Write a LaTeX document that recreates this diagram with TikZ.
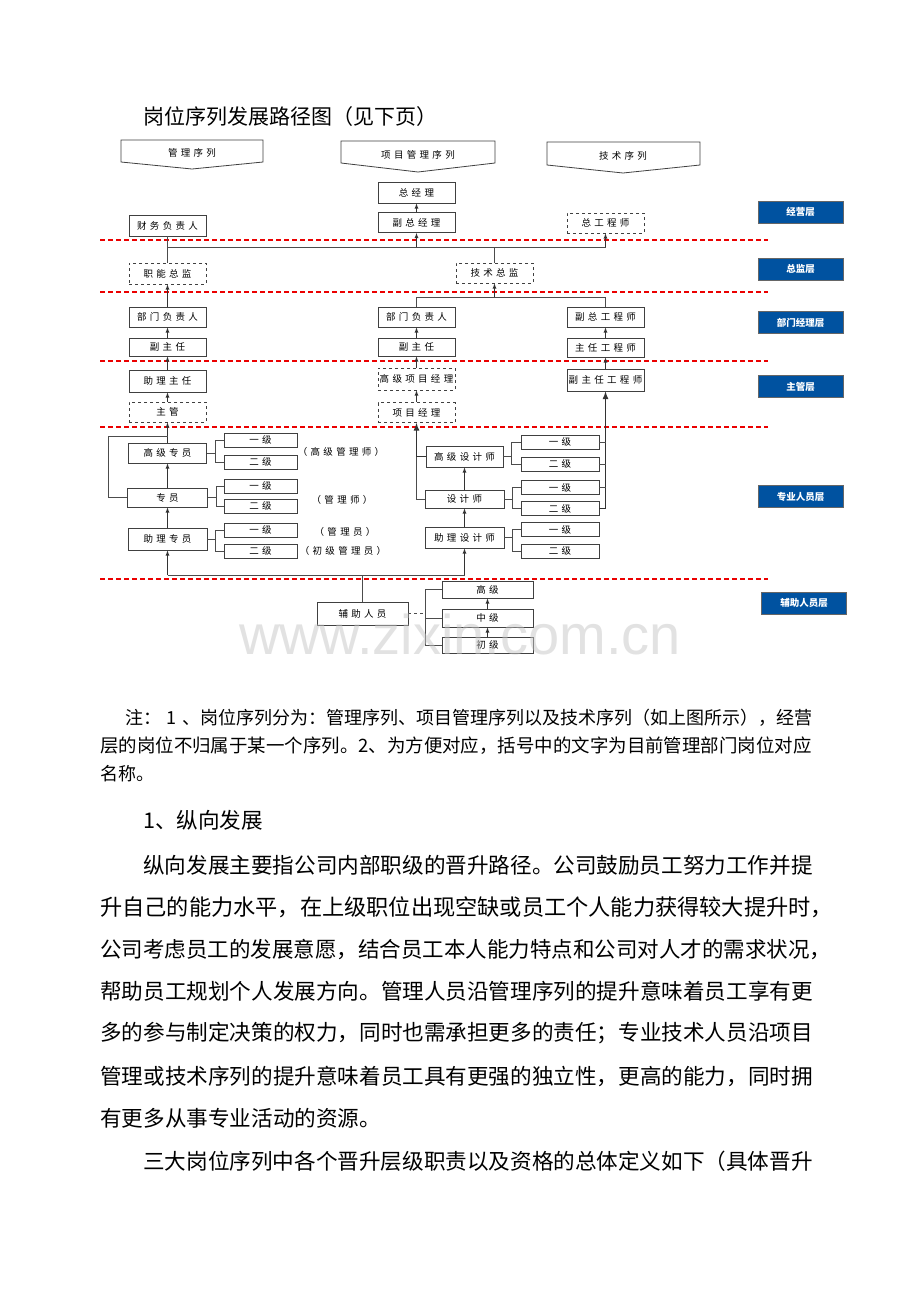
\documentclass[tikz,border=0pt]{standalone}
\usepackage{fontspec}
\setmainfont{Noto Sans CJK SC}
\newfontfamily\boxfont[LetterSpace=35]{Noto Sans CJK SC}
\newfontfamily\wmfont{Liberation Sans}
\usetikzlibrary{positioning,calc,arrows}
\definecolor{layerblue}{RGB}{0,82,160}
\definecolor{layerred}{RGB}{235,0,0}
\tikzset{posbox/.style={draw=black!75, line width=0.8pt, fill=white, minimum width=77pt, minimum height=20pt, inner sep=1pt, font=\boxfont\fontsize{9.5}{10}\selectfont}}
\tikzset{posdash/.style={posbox, dashed}}
\tikzset{gradebox/.style={posbox, minimum width=73pt, minimum height=14pt}}
\tikzset{layerbox/.style={draw=black!60, fill=layerblue, text=white, minimum width=85pt, minimum height=22pt, inner sep=1pt, font=\bfseries\fontsize{9.5}{10}\selectfont}}
\tikzset{arr/.style={draw=black!80, -latex, line width=0.8pt}}
\tikzset{thickarr/.style={arr, line width=1.6pt}}
\tikzset{link/.style={draw=black!70, line width=0.8pt}}
\tikzset{layerline/.style={draw=layerred, line width=1.1pt, dash pattern=on 5pt off 3pt}}
\tikzset{banner/.style={draw=black!75, line width=0.8pt}}
\tikzset{remark/.style={font=\boxfont\fontsize{9.5}{10}\selectfont, inner sep=0pt}}
\tikzset{notetext/.style={anchor=west, inner sep=0pt, font=\fontsize{18}{18}\selectfont}}
\tikzset{bodytext/.style={anchor=west, inner sep=0pt, font=\fontsize{21.6}{21.6}\selectfont}}

\begin{document}
\begin{tikzpicture}[x=1pt,y=-1pt]
\useasboundingbox[fill=white] (0,0) rectangle (920,1302);

\node[anchor=west, inner sep=0pt, font=\fontsize{21}{21}\selectfont] (title) at (143,117) {岗位序列发展路径图（见下页）};

% sequence banners
\draw[banner] (121,140) -- (263,140) -- (263,162) -- (192,169) -- (121,162) -- cycle;
\draw[banner] (341,141) -- (495,141) -- (495,163) -- (418,172) -- (341,163) -- cycle;
\draw[banner] (547,142) -- (700,142) -- (700,165) -- (623,173) -- (547,165) -- cycle;
\node[remark] (seqMgmt) at (192,153) {管理序列};
\node[remark] (seqProj) at (418,155) {项目管理序列};
\node[remark] (seqTech) at (623,156) {技术序列};

% layer lines and labels
\draw[layerline] (100,240) -- (768,240);
\draw[layerline] (100,292) -- (768,292);
\draw[layerline] (100,361) -- (768,361);
\draw[layerline] (100,427) -- (768,427);
\draw[layerline] (100,579) -- (768,579);
\node[layerbox] (lyBiz) at (800.5,212) {经营层};
\node[layerbox] (lyDir) at (800.5,269) {总监层};
\node[layerbox] (lyDept) at (800.5,322.5) {部门经理层};
\node[layerbox] (lySupv) at (800.5,386.5) {主管层};
\node[layerbox] (lyPro) at (800.5,496.5) {专业人员层};
\node[layerbox] (lyAux) at (804,603) {辅助人员层};

% management levels
\node[posbox, minimum height=21pt] (ceo) at (416.5,192.5) {总经理};
\node[posbox] (vp) at (416.5,222.5) {副总经理};
\node[posbox, minimum height=21pt] (cfo) at (167.5,225.5) {财务负责人};
\node[posdash] (chiefEng) at (605.5,223) {总工程师};
\node[posdash, minimum height=21pt] (funcDir) at (167.5,273.5) {职能总监};
\node[posdash] (techDir) at (494.5,273) {技术总监};
\node[posbox] (deptL) at (167.5,317) {部门负责人};
\node[posbox] (deptM) at (416.5,317) {部门负责人};
\node[posbox] (vchiefEng) at (605.5,317) {副总工程师};
\node[posbox, minimum height=18pt] (vdirL) at (167.5,347) {副主任};
\node[posbox, minimum height=18pt] (vdirM) at (416.5,347) {副主任};
\node[posbox, minimum height=19pt] (dirEng) at (605.5,347.5) {主任工程师};
\node[posbox, minimum height=22pt] (asstDir) at (167.5,381) {助理主任};
\node[posdash, minimum height=22pt] (srPM) at (416.5,379) {高级项目经理};
\node[posbox, minimum height=22pt] (vdirEng) at (605.5,380) {副主任工程师};
\node[posdash] (supv) at (167.5,412) {主管};
\node[posdash] (pm) at (416.5,412.5) {项目经理};

% professional staff
\node[posbox, minimum width=78pt] (srSpec) at (167.5,453) {高级专员};
\node[posbox, minimum width=80pt, minimum height=19pt] (spec) at (167.5,497.5) {专员};
\node[posbox, minimum width=79pt, minimum height=22pt] (asstSpec) at (167.5,539) {助理专员};
\node[gradebox] (g1a) at (260.5,440) {一级};
\node[gradebox] (g1b) at (260.5,462) {二级};
\node[gradebox] (g2a) at (260.5,486) {一级};
\node[gradebox] (g2b) at (260.5,506) {二级};
\node[gradebox] (g3a) at (260.5,530) {一级};
\node[gradebox] (g3b) at (260.5,551) {二级};
\node[remark] (noteSrMgr) at (341,452) {（高级管理师）};
\node[remark] (noteMgr) at (342,500) {（管理师）};
\node[remark] (noteClerk) at (345,532) {（管理员）};
\node[remark] (noteJrClerk) at (343,551) {（初级管理员）};

\node[posbox, minimum height=21pt] (srDes) at (464.5,456.5) {高级设计师};
\node[posbox, minimum width=79pt, minimum height=18pt] (des) at (464.5,499) {设计师};
\node[posbox, minimum width=79pt, minimum height=21pt] (asstDes) at (464.5,537.5) {助理设计师};
\node[gradebox, minimum width=78pt] (d1a) at (560,442) {一级};
\node[gradebox, minimum width=78pt] (d1b) at (560,464) {二级};
\node[gradebox, minimum width=78pt] (d2a) at (560,487.5) {一级};
\node[gradebox, minimum width=78pt] (d2b) at (560,508.5) {二级};
\node[gradebox, minimum width=78pt] (d3a) at (560,529.5) {一级};
\node[gradebox, minimum width=78pt] (d3b) at (560,551) {二级};

% auxiliary staff
\node[posbox, minimum width=91pt, minimum height=23pt] (aux) at (362.5,613.5) {辅助人员};
\node[gradebox, minimum width=91pt, minimum height=17pt] (auxHi) at (487.5,589.5) {高级};
\node[gradebox, minimum width=91pt, minimum height=18pt] (auxMid) at (487.5,618) {中级};
\node[gradebox, minimum width=91pt, minimum height=16pt] (auxLo) at (487.5,645) {初级};

% connectors, top part
\coordinate (busA) at (0,247);
\coordinate (busB) at (0,297);
\coordinate (busC) at (0,575);
\draw[arr] (vp) -- (ceo);
\draw[link] (cfo.south) -- (funcDir.north);
\draw[link] (cfo.south |- busA) -- (chiefEng.south |- busA);
\draw[arr] (vp.south |- busA) -- (vp.south);
\draw[arr] (chiefEng.south |- busA) -- (chiefEng.south);
\draw[link, line width=1.6pt] (techDir.north) -- (techDir.north |- busA);
\draw[link] (deptM.north) |- (vchiefEng.north |- busB) -- (vchiefEng.north);
\draw[arr] (techDir.south |- busB) -- (techDir.south);
\draw[arr] (deptL) -- (funcDir);
\draw[arr] (vdirL) -- (deptL);
\draw[arr] (asstDir) -- (vdirL);
\draw[arr] (supv) -- (asstDir);
\draw[arr] (vdirM) -- (deptM);
\draw[arr] (srPM) -- (vdirM);
\draw[arr] (pm) -- (srPM);
\draw[arr] (dirEng) -- (vchiefEng);
\draw[arr] (vdirEng) -- (dirEng);

% connectors, professional staff
\draw[arr] (srSpec) -- (supv);
\draw[arr] (spec) -- (srSpec);
\draw[arr] (asstSpec) -- (spec);
\draw[link] (spec.west) -- ++(-19,0) |- (srSpec.north |- 0,436);
\foreach \src/\ga/\gb in {srSpec/g1a/g1b, spec/g2a/g2b, asstSpec/g3a/g3b, srDes/d1a/d1b, des/d2a/d2b, asstDes/d3a/d3b} {
  \draw[link] (\src.east) -- ++(8,0) coordinate (brk);
  \draw[link] (\ga.west) -| (brk) |- (\gb.west);
}
\draw[thickarr] (srDes.west) -| (pm.south);
\draw[link] (des.west) -| (srDes.west -| pm.south);
\draw[arr] (des) -- (srDes);
\draw[arr] (asstDes) -- (des);
\draw[thickarr] (d2b.east) -| (vdirEng.south);
\foreach \g in {d1a,d1b,d2a}
  \draw[link] (\g.east) -- (\g.east -| vdirEng.south);

% connectors, bottom
\draw[link] (asstSpec.south |- busC) -- (asstDes.south |- busC);
\draw[arr] (asstSpec.south |- busC) -- (asstSpec.south);
\draw[arr] (asstDes.south |- busC) -- (asstDes.south);
\draw[link] (aux.north) -- (aux.north |- busC);
\draw[link, dashed] (aux.east) -- ++(17,0) coordinate (auxJ);
\draw[link] (auxHi.west) -| (auxJ) |- (auxLo.west);
\draw[link] (auxMid.west) -- (auxMid.west -| auxJ);
\draw[arr] (auxLo) -- (auxMid);
\draw[arr] (auxMid) -- (auxHi);

\node[text=gray!45, opacity=0.5, font=\wmfont\fontsize{56}{56}\selectfont] (wmark) at (460,634) {www.zixin.com.cn};

% text below the chart
\node[notetext] (note1) at (125,718) {\makebox[687pt][s]{注：~1~、岗位序列分为：管理序列、项目管理序列以及技术序列（如上图所示），经营}};
\node[notetext, font=\fontsize{18.45}{18.45}\selectfont] (note2) at (100,746) {层的岗位不归属于某一个序列。2、为方便对应，括号中的文字为目前管理部门岗位对应};
\node[notetext] (note3) at (100,774) {名称。};
\node[bodytext] (head1) at (143,820) {1、纵向发展};
\node[bodytext] (par1) at (143,865) {纵向发展主要指公司内部职级的晋升路径。公司鼓励员工努力工作并提};
\node[bodytext, font=\fontsize{22.2}{22.2}\selectfont] (par2) at (100,907) {升自己的能力水平，在上级职位出现空缺或员工个人能力获得较大提升时，};
\node[bodytext, font=\fontsize{21.5}{21.5}\selectfont] (par3) at (100,950) {公司考虑员工的发展意愿，结合员工本人能力特点和公司对人才的需求状况，};
\node[bodytext] (par4) at (100,991) {帮助员工规划个人发展方向。管理人员沿管理序列的提升意味着员工享有更};
\node[bodytext] (par5) at (100,1033) {多的参与制定决策的权力，同时也需承担更多的责任；专业技术人员沿项目};
\node[bodytext] (par6) at (100,1076) {管理或技术序列的提升意味着员工具有更强的独立性，更高的能力，同时拥};
\node[bodytext] (par7) at (100,1118) {有更多从事专业活动的资源。};
\node[bodytext] (par8) at (143,1161) {三大岗位序列中各个晋升层级职责以及资格的总体定义如下（具体晋升};
\end{tikzpicture}
\end{document}
